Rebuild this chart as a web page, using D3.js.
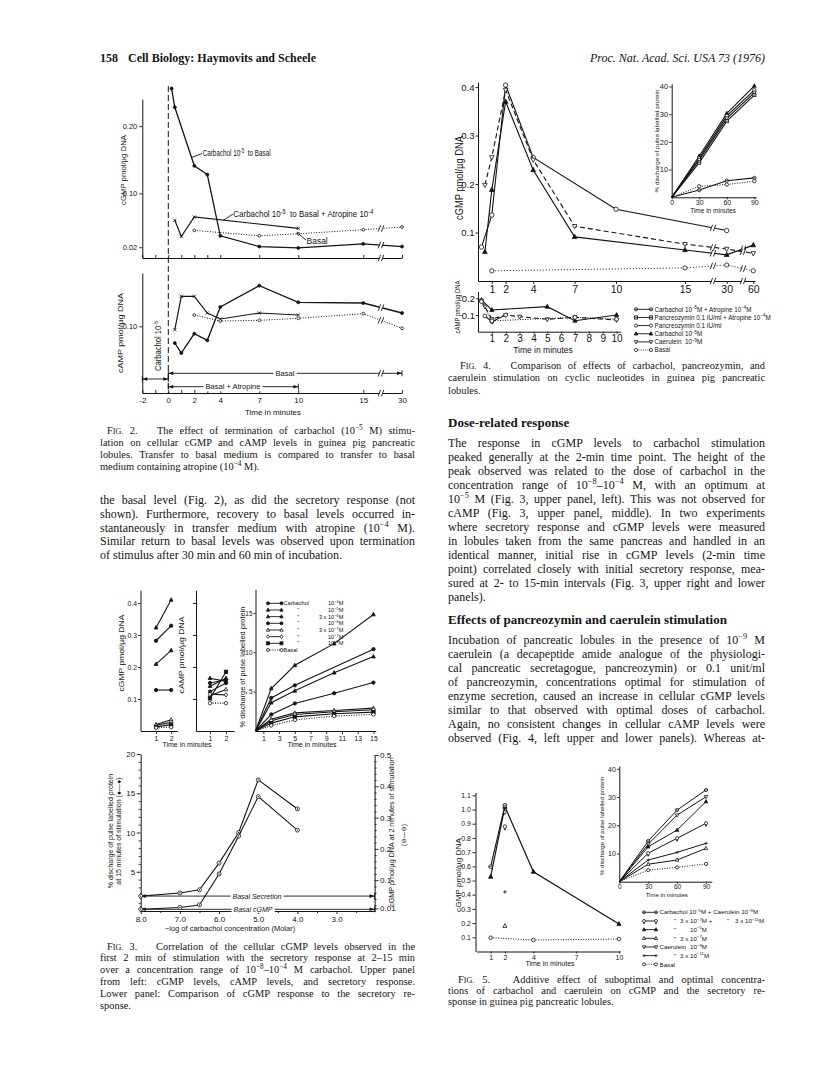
<!DOCTYPE html>
<html><head><meta charset="utf-8"><title>Haymovits and Scheele 1976, p.158</title>
<script src="https://cdn.jsdelivr.net/npm/d3@7/dist/d3.min.js"></script>
<style>html,body{margin:0;padding:0;background:#fff}svg{display:block}</style>
</head><body>
<svg id="page" width="816" height="1074" xmlns="http://www.w3.org/2000/svg"></svg>
<script>
// ================= DATA =================
// ---- Fig. 2 ----
const f2Ticks = [-2, 0, 2, 4, 7, 10, 15, 30];
const f2TickLabels = ['-2', '0', '2', '4', '7', '10', '15', '30'];
const f2MinorTicks = [-1, 1, 3];
const f2GmpTicks = [0.02, 0.10, 0.20];
const f2GmpTickLabels = ['0.02', '0.10', '0.20'];
const f2AmpTicks = [0.10];
const f2AmpTickLabels = ['0.10'];
const f2CarbT = [0.25, 0.5, 2, 3, 4, 7, 10, 15, 30];
const f2CarbGmp = [0.256, 0.228, 0.141, 0.128, 0.037, 0.021, 0.019, 0.025, 0.021];
const f2AtrT = [0.5, 1, 2, 10];
const f2AtrGmp = [0.060, 0.036, 0.065, 0.048];
const f2BasT = [2, 7, 10, 15, 30];
const f2BasGmp = [0.045, 0.037, 0.040, 0.046, 0.050];
const f2CarbAmpT = [0.5, 1, 2, 3, 4, 7, 10, 15, 30];
const f2CarbAmp = [0.075, 0.060, 0.089, 0.079, 0.129, 0.161, 0.136, 0.135, 0.120];
const f2AtrAmpT = [0.5, 1, 2, 3, 4, 7, 10];
const f2AtrAmp = [0.095, 0.145, 0.145, 0.120, 0.111, 0.120, 0.117];
const f2BasAmpT = [2, 4, 7, 10, 15, 30];
const f2BasAmp = [0.117, 0.108, 0.109, 0.112, 0.119, 0.097];

// ---- Fig. 3 upper ----
const f3UpperTime = [1, 2];
const f3SeriesLabels = ['10^{−4}M', '10^{−5}M', '3 x 10^{−6}M', '10^{−6}M', '3 x 10^{−7}M', '10^{−7}M', '10^{−8}M', 'Basal'];
const f3Markers = ['dot', 'tri', 'tri', 'dot', 'otri', 'dia', 'sq', 'circ'];
const f3GmpT1 = [0.282, 0.323, 0.209, 0.128, 0.020, 0.018, 0.013, 0.010];
const f3GmpT2 = [0.329, 0.410, 0.252, 0.128, 0.035, 0.027, 0.020, 0.012];
const f3AmpT1 = [0.150, 0.165, 0.140, 0.123, 0.110, 0.115, 0.102, 0.087];
const f3AmpT2 = [0.160, 0.155, 0.165, 0.150, 0.130, 0.113, 0.185, 0.087];
const f3GmpTicks = [0.1, 0.2, 0.3, 0.4];
const f3GmpTickLabels = ['0.1', '0.2', '0.3', '0.4'];
const f3SecTime = [0, 2, 5, 10, 15];
const f3SecC4  = [0, 4.2, 5.8, null, 10.4];
const f3SecC5  = [0, 5.4, 8.35, 11.1, 14.8];
const f3SecC36 = [0, 3.6, 5.1, 7.4, 9.45];
const f3SecC6  = [0, 2.1, 3.5, 4.8, 6.15];
const f3SecC37 = [0, 1.5, 2.3, 2.6, 2.9];
const f3SecC7  = [0, 1.3, 2.1, 2.45, 2.7];
const f3SecC8  = [0, 1.0, 1.8, 2.2, 2.4];
const f3SecBas = [0, 0.7, 1.4, 1.9, 2.1];
const f3SecTicks = [5, 10, 15];
const f3SecTimeTicks = [1, 3, 5, 7, 9, 11, 13, 15];
// ---- Fig. 3 lower ----
const f3LogConc = [8.0, 7.0, 6.5, 6.0, 5.5, 5.0, 4.0];
const f3Sec15 = [1.9, 2.3, 2.7, 6.1, 10.0, 16.7, 13.0];
const f3Gmp2 = [0.007, 0.013, 0.021, 0.12, 0.241, 0.367, 0.26];
const f3ConcTicks = [8, 7, 6, 5, 4, 3];
const f3ConcTickLabels = ['8.0', '7.0', '6.0', '5.0', '4.0', '3.0'];
const f3ConcMinor = [7.5, 6.5, 5.5, 4.5, 3.5, 2.5];
const f3LeftTicks = [5, 10, 15, 20];
const f3RightTicks = [0.01, 0.1, 0.2, 0.3, 0.4, 0.5];
const f3RightTickLabels = ['0.01', '0.1', '0.2', '0.3', '0.4', '0.5'];
const f3BasalSecLevel = 1.9;
const f3BasalGmpLevel = 0.007;

// ---- Fig. 4 ----
const f4Ticks = [1, 2, 4, 7, 10, 15, 30, 60];
const f4GmpTicks = [0.1, 0.2, 0.3, 0.4];
const f4PancT = [0.25, 1, 2, 4, 10, 30];
const f4PancGmp = [0.070, 0.136, 0.404, 0.255, 0.148, 0.104];
const f4CarbT = [0.5, 1, 2, 4, 7, 15, 30, 60];
const f4CarbGmp = [0.060, 0.188, 0.370, 0.229, 0.091, 0.064, 0.054, 0.074];
const f4CaerT = [0.5, 1, 2, 4, 7, 15, 30, 60];
const f4CaerGmp = [0.198, 0.255, 0.394, 0.250, 0.113, 0.076, 0.066, 0.057];
const f4BasT = [1, 15, 30, 60];
const f4BasGmp = [0.021, 0.027, 0.033, 0.021];
const f4InsTime = [0, 30, 60, 90];
const f4InsCarb = [0, 14.9, 30.3, 40.2];
const f4InsPanc = [0, 14.1, 29.4, 38.7];
const f4InsCaer = [0, 13.5, 28.5, 37.8];
const f4InsPancAtr = [0, 12.5, 27.5, 36.9];
const f4InsCarbAtr = [0, 2.6, 6.0, 7.0];
const f4InsBas = [0, 4.0, 4.6, 5.8];
const f4InsTicks = [10, 20, 30, 40];
const f4InsTimeTicks = [0, 30, 60, 90];
const f4AmpTicks = [0.1, 0.2];
const f4AmpTime = [1, 2, 3, 4, 5, 6, 7, 8, 9, 10];
const f4AmpCarbT = [0.25, 1, 5, 7, 10];
const f4AmpCarb = [0.19, 0.13, 0.15, 0.066, 0.10];
const f4AmpCaerT = [0.25, 0.5, 1, 2, 3, 5, 7, 10];
const f4AmpCaer = [0.185, 0.15, 0.075, 0.10, 0.09, 0.074, 0.086, 0.07];
const f4AmpPancT = [0.5, 1, 2];
const f4AmpPanc = [0.094, 0.06, 0.10];
const f4AmpBasT = [0.25, 1, 7, 10];
const f4AmpBas = [0.18, 0.065, 0.086, 0.075];
const f4Legend = ['Carbachol 10^{−5}M + Atropine 10^{−4}M', 'Pancreozymin 0.1 IU/ml + Atropine 10^{−4}M', 'Pancreozymin 0.1 IU/ml', 'Carbachol 10^{−5}M', 'Caerulein  10^{−9}M', 'Basal'];
const f4LegendMarkers = ['theta', 'osqline', 'circ', 'tri', 'itri', 'circ'];

// ---- Fig. 5 ----
const f5Ticks = [1, 2, 4, 7, 10];
const f5GmpTicks = [0.1, 0.2, 0.3, 0.4, 0.5, 0.6, 0.7, 0.8, 0.9, 1.0, 1.1];
const f5CarbT = [1, 2, 4, 10];
const f5CarbGmp = [0.527, 1.02, 0.562, 0.194];
const f5ComboT = [1, 2];
const f5ComboGmp = [0.597, 1.03];
const f5SinglesT2 = [0.98, 0.88, 0.42, 0.18];
const f5SinglesMarkers = ['itri', 'venus', 'plus', 'otri'];
const f5BasT = [1, 4, 10];
const f5BasGmp = [0.097, 0.081, 0.088];
const f5InsTime = [0, 30, 60, 90];
const f5InsCombo = [0, 14.4, 25.4, 32.5];
const f5InsCaer = [0, 13.3, 23.6, 30.1];
const f5InsCarb = [0, 12.4, 18.3, 28.4];
const f5InsCombo2 = [0, 10.1, 15.4, 20.7];
const f5InsCaer2 = [0, 7.7, 10.4, 13.6];
const f5InsCarb2 = [0, 6.2, 7.7, 11.8];
const f5InsBas = [0, 4.1, 5.1, 6.3];
const f5InsTicks = [10, 20, 30, 40];
const f5InsTimeTicks = [0, 30, 60, 90];

// ---- Text ----
const leftBody = [
  'the basal level (Fig. 2), as did the secretory response (not',
  'shown). Furthermore, recovery to basal levels occurred in-',
  'stantaneously in transfer medium with atropine (10^{−4} M).',
  'Similar return to basal levels was observed upon termination',
  'of stimulus after 30 min and 60 min of incubation.'];
const cap2 = [
  'F~{IG.} 2.   The effect of termination of carbachol (10^{−5} M) stimu-',
  'lation on cellular cGMP and cAMP levels in guinea pig pancreatic',
  'lobules. Transfer to basal medium is compared to transfer to basal',
  'medium containing atropine (10^{−4} M).'];
const cap3 = [
  'F~{IG.} 3.   Correlation of the cellular cGMP levels observed in the',
  'first 2 min of stimulation with the secretory response at 2–15 min',
  'over a concentration range of 10^{−8}–10^{−4} M carbachol. Upper panel',
  'from left: cGMP levels, cAMP levels, and secretory response.',
  'Lower panel: Comparison of cGMP response to the secretory re-',
  'sponse.'];
const cap4 = [
  'F~{IG.} 4.   Comparison of effects of carbachol, pancreozymin, and',
  'caerulein stimulation on cyclic nucleotides in guinea pig pancreatic',
  'lobules.'];
const cap5 = [
  'F~{IG.} 5.   Additive effect of suboptimal and optimal concentra-',
  'tions of carbachol and caerulein on cGMP and the secretory re-',
  'sponse in guinea pig pancreatic lobules.'];
const heading1 = 'Dose-related response';
const para1 = [
  'The response in cGMP levels to carbachol stimulation',
  'peaked generally at the 2-min time point. The height of the',
  'peak observed was related to the dose of carbachol in the',
  'concentration range of 10^{−8}–10^{−4} M, with an optimum at',
  '10^{−5} M (Fig. 3, upper panel, left). This was not observed for',
  'cAMP (Fig. 3, upper panel, middle). In two experiments',
  'where secretory response and cGMP levels were measured',
  'in lobules taken from the same pancreas and handled in an',
  'identical manner, initial rise in cGMP levels (2-min time',
  'point) correlated closely with initial secretory response, mea-',
  'sured at 2- to 15-min intervals (Fig. 3, upper right and lower',
  'panels).'];
const heading2 = 'Effects of pancreozymin and caerulein stimulation';
const para2 = [
  'Incubation of pancreatic lobules in the presence of 10^{−9} M',
  'caerulein (a decapeptide amide analogue of the physiologi-',
  'cal pancreatic secretagogue, pancreozymin) or 0.1 unit/ml',
  'of pancreozymin, concentrations optimal for stimulation of',
  'enzyme secretion, caused an increase in cellular cGMP levels',
  'similar to that observed with optimal doses of carbachol.',
  'Again, no consistent changes in cellular cAMP levels were',
  'observed (Fig. 4, left upper and lower panels). Whereas at-'];

// ================= HELPERS =================
const INK = '#141414';
const SERIF = "'Liberation Serif','DejaVu Serif','Times New Roman',serif";
const SANS = "'Liberation Sans','DejaVu Sans',Arial,sans-serif";
const svg = d3.select('#page');
svg.append('rect').attr('width', 816).attr('height', 1074).attr('fill', '#fff');

function rich(t, str, fs) {
  const parts = str.split(/(\^\{[^}]*\}|~\{[^}]*\})/);
  let shift = 0;
  parts.forEach(p => {
    if (!p) return;
    if (p.startsWith('^{')) {
      const up = -fs * 0.38;
      t.append('tspan').attr('font-size', fs * 0.7).attr('dy', up - shift).text(p.slice(2, -1));
      shift = up;
    } else if (p.startsWith('~{')) {
      const s = t.append('tspan').attr('font-size', fs * 0.78).text(p.slice(2, -1));
      if (shift) s.attr('dy', -shift); shift = 0;
    } else {
      const s = t.append('tspan').text(p);
      if (shift) s.attr('dy', -shift); shift = 0;
    }
  });
}
function txt(g, x, y, str, o) {
  o = o || {};
  const fs = o.fs || 10;
  const t = g.append('text').attr('x', x).attr('y', y)
    .attr('font-family', o.ff || SANS).attr('font-size', fs).attr('fill', INK)
    .style('white-space', 'pre');
  if (o.anchor) t.attr('text-anchor', o.anchor);
  if (o.fw) t.attr('font-weight', o.fw);
  if (o.fi) t.attr('font-style', 'italic');
  if (o.rot) t.attr('transform', `rotate(${o.rot},${x},${y})`);
  rich(t, str, fs);
  if (o.len) fitWidth(t, o.len);
  return t;
}
// scale the glyphs horizontally so that the text occupies exactly `len` pixels
function fitWidth(t, len) {
  const w = t.node().getComputedTextLength();
  if (!w) return;
  const k = len / w;
  const x = +t.attr('x'), y = +t.attr('y');
  const prev = t.attr('transform') || '';
  t.attr('transform', `${prev} translate(${x},${y}) scale(${k},1) translate(${-x},${-y})`);
}
function justify(t, width) {
  const n = t.node();
  const w = n.getComputedTextLength();
  const spaces = (n.textContent.match(/ /g) || []).length;
  if (w > width || spaces === 0) fitWidth(t, width);
  else t.style('word-spacing', ((width - w) / spaces) + 'px');
}
function para(g, lines, x, y0, step, width, o, indent, justifyLast) {
  lines.forEach((ln, i) => {
    const ind = (i === 0 && indent) ? indent : 0;
    const t = txt(g, x + ind, y0 + i * step, ln, o);
    if (i < lines.length - 1 || justifyLast) justify(t, width - ind);
  });
}
function axis(g, orient, scale, x, y, vals, labels, o) {
  o = o || {};
  const gen = { left: d3.axisLeft, right: d3.axisRight, bottom: d3.axisBottom, top: d3.axisTop }[orient](scale)
    .tickValues(vals).tickSizeOuter(0)
    .tickSizeInner(o.ts == null ? 3 : o.ts).tickPadding(o.pad == null ? 2 : o.pad)
    .tickFormat((d, i) => labels ? labels[i] : '');
  const a = g.append('g').attr('transform', `translate(${x},${y})`).call(gen);
  a.attr('font-family', SANS).attr('font-size', o.fs || 8);
  a.selectAll('path.domain').attr('stroke', o.noDomain ? 'none' : INK).attr('stroke-width', o.sw || 1);
  a.selectAll('.tick line').attr('stroke', INK).attr('stroke-width', o.tw || 0.9);
  a.selectAll('.tick text').attr('fill', INK);
  return a;
}
function mark(g, t, x, y, r) {
  const s = g.append('g').attr('transform', `translate(${x},${y})`);
  const st = (e, fill) => e.attr('stroke', INK).attr('stroke-width', 0.8).attr('fill', fill ? INK : '#fff');
  const ln = (x1, y1, x2, y2) => s.append('line').attr('x1', x1).attr('y1', y1).attr('x2', x2).attr('y2', y2).attr('stroke', INK).attr('stroke-width', 0.8);
  switch (t) {
    case 'dot': st(s.append('circle').attr('r', r), true); break;
    case 'circ': st(s.append('circle').attr('r', r), false); break;
    case 'ocdot': st(s.append('circle').attr('r', r), false); s.append('circle').attr('r', r * 0.35).attr('fill', INK); break;
    case 'tri': st(s.append('path').attr('d', `M0,${-r * 1.25}L${r * 1.1},${r * 0.8}L${-r * 1.1},${r * 0.8}Z`), true); break;
    case 'otri': st(s.append('path').attr('d', `M0,${-r * 1.25}L${r * 1.1},${r * 0.8}L${-r * 1.1},${r * 0.8}Z`), false); break;
    case 'itri': st(s.append('path').attr('d', `M0,${r * 1.25}L${r * 1.1},${-r * 0.8}L${-r * 1.1},${-r * 0.8}Z`), false); break;
    case 'dia': st(s.append('path').attr('d', `M0,${-r * 1.3}L${r},0L0,${r * 1.3}L${-r},0Z`), false); break;
    case 'sq': st(s.append('rect').attr('x', -r).attr('y', -r).attr('width', 2 * r).attr('height', 2 * r), true); break;
    case 'osq': st(s.append('rect').attr('x', -r).attr('y', -r).attr('width', 2 * r).attr('height', 2 * r), false); break;
    case 'osqline': st(s.append('rect').attr('x', -r).attr('y', -r).attr('width', 2 * r).attr('height', 2 * r), false); ln(-r, 0, r, 0); break;
    case 'theta': st(s.append('circle').attr('r', r), false); ln(-r, 0, r, 0); break;
    case 'venus': st(s.append('circle').attr('r', r), false); ln(0, r, 0, r * 2); ln(-r * 0.6, r * 1.5, r * 0.6, r * 1.5); break;
    case 'cross': ln(-r, -r, r, r); ln(-r, r, r, -r); break;
    case 'plus': ln(-r, 0, r, 0); ln(0, -r, 0, r); break;
  }
}
function series(g, xs, ys, sx, sy, o) {
  o = o || {};
  const pts = [];
  xs.forEach((x, i) => { if (ys[i] != null) pts.push([sx(x), sy(ys[i])]); });
  if (o.line !== false && pts.length > 1)
    g.append('path').attr('d', d3.line()(pts)).attr('fill', 'none').attr('stroke', INK)
      .attr('stroke-width', o.sw || 1.1).attr('stroke-dasharray', o.dash || null);
  if (o.mk) pts.forEach((p, i) => { if (!(o.skipFirst && i === 0)) mark(g, o.mk, p[0], p[1], o.ms || 2); });
  return pts;
}
function yAt(pts, x) {
  for (let i = 0; i < pts.length - 1; i++) {
    const [x0, y0] = pts[i], [x1, y1] = pts[i + 1];
    if ((x >= x0 && x <= x1) || (x <= x0 && x >= x1)) return y0 + (y1 - y0) * (x - x0) / (x1 - x0);
  }
  return null;
}
function brk(g, x, y, h) {
  h = h || 3.2; const gap = 1.6;
  g.append('rect').attr('x', x - gap).attr('y', y - h + 1).attr('width', gap * 2).attr('height', 2 * h - 2).attr('fill', '#fff');
  [-gap, gap].forEach(dx => g.append('line').attr('x1', x + dx - 1.2).attr('y1', y + h).attr('x2', x + dx + 1.2).attr('y2', y - h)
    .attr('stroke', INK).attr('stroke-width', 0.9));
}
function arrowHead(g, x, y, dir) {
  g.append('path').attr('d', `M${x},${y}L${x - dir * 5},${y - 1.8}L${x - dir * 5},${y + 1.8}Z`).attr('fill', INK);
}
function hArrow(g, x1, x2, y, label, o) {
  o = o || {};
  g.append('line').attr('x1', x1).attr('x2', x2).attr('y1', y).attr('y2', y).attr('stroke', INK).attr('stroke-width', 0.9);
  arrowHead(g, x1, y, -1); arrowHead(g, x2, y, 1);
  [x1, x2].forEach(x => g.append('line').attr('x1', x).attr('x2', x).attr('y1', y - 3).attr('y2', y + 3).attr('stroke', INK).attr('stroke-width', 0.9));
  if (label) {
    const cx = o.cx == null ? (x1 + x2) / 2 : o.cx;
    const bg = g.append('rect').attr('fill', '#fff');
    const t = txt(g, cx, y + (o.fs || 7) * 0.35, label, { fs: o.fs || 7, anchor: 'middle', fi: o.fi });
    const b = t.node().getBBox();
    bg.attr('x', b.x - 2).attr('y', b.y).attr('width', b.width + 4).attr('height', b.height);
  }
}
function leader(g, x1, y1, x2, y2) {
  g.append('line').attr('x1', x1).attr('y1', y1).attr('x2', x2).attr('y2', y2).attr('stroke', INK).attr('stroke-width', 0.9);
}

// ================= HEADER =================
const hdr = svg.append('g');
txt(hdr, 100, 62, '158', { ff: SERIF, fs: 12, fw: 'bold' });
txt(hdr, 128, 62, 'Cell Biology: Haymovits and Scheele', { ff: SERIF, fs: 12, fw: 'bold' });
txt(hdr, 765, 62, 'Proc. Nat. Acad. Sci. USA 73 (1976)', { ff: SERIF, fs: 12, fi: true, anchor: 'end' });

// ================= FIG 2 =================
const g2 = svg.append('g');
const f2x = d3.scaleLinear().domain([-2, 15, 30]).range([142.3, 363.3, 402]);
const f2gy = d3.scaleLinear().domain([0.004, 0.24]).range([258, 99.2]);
const f2ay = d3.scaleLinear().domain([0, 0.18]).range([393, 273]);
const f2Break = 381;
axis(g2, 'left', f2gy, 142.3, 0, f2GmpTicks, f2GmpTickLabels, { fs: 7.5, ts: 3, pad: 2 });
axis(g2, 'bottom', f2x, 0, 258, f2Ticks.concat(f2MinorTicks), null, { ts: -3 });
axis(g2, 'left', f2ay, 142.3, 0, f2AmpTicks, f2AmpTickLabels, { fs: 7.5, ts: 3, pad: 2 });
axis(g2, 'bottom', f2x, 0, 393, f2Ticks, f2TickLabels, { ts: -3, pad: 4, fs: 8 });
axis(g2, 'bottom', f2x, 0, 393, f2MinorTicks, null, { ts: -3, noDomain: true });
brk(g2, f2Break, 258); brk(g2, f2Break, 393);
g2.append('line').attr('x1', f2x(0)).attr('x2', f2x(0)).attr('y1', 86).attr('y2', 393)
  .attr('stroke', INK).attr('stroke-width', 1).attr('stroke-dasharray', '6,3');
const p2a = series(g2, f2CarbT, f2CarbGmp, f2x, f2gy, { mk: 'dot', ms: 1.5, sw: 1.3 });
series(g2, f2AtrT, f2AtrGmp, f2x, f2gy, { mk: 'cross', ms: 1.6, sw: 1.2 });
const p2c = series(g2, f2BasT, f2BasGmp, f2x, f2gy, { mk: 'circ', ms: 1.4, dash: '1,1.6', sw: 1 });
brk(g2, f2Break, yAt(p2a, f2Break)); brk(g2, f2Break, yAt(p2c, f2Break));
txt(g2, 202.7, 156.5, 'Carbachol 10^{-5}  to Basal', { fs: 9, len: 68 });
leader(g2, 191.7, 157.5, 202, 153.5);
txt(g2, 233.3, 217, 'Carbachol 10^{-5}  to Basal + Atropine 10^{-4}', { fs: 9, len: 140 });
leader(g2, 223, 220.5, 233, 214);
txt(g2, 306.5, 244, 'Basal', { fs: 8.5 });
leader(g2, 296.7, 232.3, 306, 240);
const p2d = series(g2, f2CarbAmpT, f2CarbAmp, f2x, f2ay, { mk: 'dot', ms: 1.5, sw: 1.3 });
series(g2, f2AtrAmpT, f2AtrAmp, f2x, f2ay, { mk: 'cross', ms: 1.6, sw: 1.2 });
const p2f = series(g2, f2BasAmpT, f2BasAmp, f2x, f2ay, { mk: 'circ', ms: 1.4, dash: '1,1.6', sw: 1 });
brk(g2, f2Break, yAt(p2d, f2Break)); brk(g2, f2Break, yAt(p2f, f2Break));
txt(g2, 161.5, 346, 'Carbachol 10^{-5}', { fs: 8.5, anchor: 'middle', rot: -90, len: 50 });
hArrow(g2, f2x(0), f2x(30), 373.3, 'Basal', { fs: 7.5, cx: 285 });
brk(g2, f2Break, 373.3);
hArrow(g2, f2x(-2), f2x(0), 379, null);
hArrow(g2, f2x(0), f2x(10), 386.7, 'Basal + Atropine', { fs: 7.5, cx: 233 });
txt(g2, 126, 170, 'cGMP pmol/µg DNA', { fs: 7.5, anchor: 'middle', rot: -90, len: 70 });
txt(g2, 123, 333, 'cAMP pmol/µg DNA', { fs: 7.5, anchor: 'middle', rot: -90, len: 80 });
txt(g2, 273, 415, 'Time in minutes', { fs: 8, anchor: 'middle' });

const LX = 100, LW = 315;
para(svg, cap2, LX, 433.5, 12.2, LW, { ff: SERIF, fs: 10.4 }, 7);
para(svg, leftBody, LX, 504, 13.8, LW, { ff: SERIF, fs: 12 });

// ================= FIG 3 upper =================
const g3 = svg.append('g');
const f3gy = d3.scaleLinear().domain([0, 0.44]).range([731, 590.2]);
const f3lx = d3.scaleLinear().domain([-0.03, 2.4]).range([140.5, 177.2]);
const f3mx = d3.scaleLinear().domain([0.125, 2.5]).range([196, 234]);
const f3sy = d3.scaleLinear().domain([0, 18]).range([731, 589.3]);
const f3sx = d3.scaleLinear().domain([0, 15.3]).range([255.5, 375.8]);
axis(g3, 'left', f3gy, 140.5, 0, f3GmpTicks, f3GmpTickLabels, { fs: 6.8, ts: 2.5, pad: 1 });
axis(g3, 'bottom', f3lx, 0, 731, f3UpperTime, ['1', '2'], { fs: 7, ts: 3, pad: 2 });
axis(g3, 'left', f3gy, 196, 0, f3GmpTicks, null, { ts: 3 });
axis(g3, 'bottom', f3mx, 0, 731, f3UpperTime, ['1', '2'], { fs: 7, ts: 3, pad: 2 });
axis(g3, 'left', f3sy, 255.5, 0, f3SecTicks, ['5', '10', '15'], { fs: 6.5, ts: 2, pad: 1 });
axis(g3, 'bottom', f3sx, 0, 731, f3SecTimeTicks, f3SecTimeTicks.map(String), { fs: 7, ts: 3, pad: 2 });
f3SeriesLabels.forEach((lab, i) => {
  const bas = lab === 'Basal';
  series(g3, f3UpperTime, [f3GmpT1[i], f3GmpT2[i]], f3lx, f3gy, { mk: f3Markers[i], ms: 1.7, dash: bas ? '1,1.5' : null, sw: 1.1 });
  series(g3, f3UpperTime, [f3AmpT1[i], f3AmpT2[i]], f3mx, f3gy, { mk: f3Markers[i], ms: 1.7, dash: bas ? '1,1.5' : null, sw: 1.1 });
});
const f3SecSeries = [f3SecC4, f3SecC5, f3SecC36, f3SecC6, f3SecC37, f3SecC7, f3SecC8, f3SecBas];
f3SecSeries.forEach((ser, i) => {
  series(g3, f3SecTime, ser, f3sx, f3sy, { mk: f3Markers[i], ms: 1.7, dash: i === 7 ? '1,1.5' : null, sw: 1.1, skipFirst: true });
});
f3SeriesLabels.forEach((lab, i) => {
  const y = 603.3 + i * 6.67;
  g3.append('line').attr('x1', 268).attr('x2', 281.5).attr('y1', y).attr('y2', y).attr('stroke', INK)
    .attr('stroke-width', 0.9).attr('stroke-dasharray', i === 7 ? '1,1.2' : null);
  mark(g3, f3Markers[i], 268, y, 1.5); mark(g3, f3Markers[i], 281.5, y, 1.5);
  if (i === 0) txt(g3, 283.5, y + 2, 'Carbachol', { fs: 5.6 });
  else if (i < 7) txt(g3, 297.3, y + 2, '"', { fs: 5.6 });
  if (i < 7) txt(g3, 343.3, y + 2, lab, { fs: 5.6, anchor: 'end' });
  else txt(g3, 283.5, y + 2, 'Basal', { fs: 5.6 });
});
txt(g3, 124, 653, 'cGMP pmol/µg DNA', { fs: 6.5, anchor: 'middle', rot: -90, len: 77 });
txt(g3, 184.5, 655, 'cAMP pmol/µg DNA', { fs: 6.5, anchor: 'middle', rot: -90, len: 77 });
txt(g3, 245, 667, '% discharge of pulse labelled protein', { fs: 6.5, anchor: 'middle', rot: -90, len: 121 });
txt(g3, 187, 747, 'Time in minutes', { fs: 7, anchor: 'middle' });
txt(g3, 312, 747, 'Time in minutes', { fs: 7, anchor: 'middle' });

// ================= FIG 3 lower =================
const g3b = svg.append('g');
const f3ly = d3.scaleLinear().domain([0, 20]).range([911, 754]);
const f3ry = d3.scaleLinear().domain([0, 0.5]).range([911.5, 755]);
const f3cx = d3.scaleLinear().domain([8, 2.03]).range([140.7, 374.6]);
axis(g3b, 'left', f3ly, 140.7, 0, f3LeftTicks, f3LeftTicks.map(String), { fs: 8, ts: 4, pad: 1.5 });
axis(g3b, 'left', f3ly, 140.7, 0, d3.range(1, 20).filter(v => v % 5), null, { ts: 2, noDomain: true });
axis(g3b, 'right', f3ry, 374.6, 0, f3RightTicks, f3RightTickLabels, { fs: 8, ts: 4, pad: 1.5 });
axis(g3b, 'right', f3ry, 374.6, 0, d3.range(0.02, 0.5, 0.02).filter(v => Math.abs(v * 10 - Math.round(v * 10)) > 0.01), null, { ts: 2, noDomain: true });
axis(g3b, 'bottom', f3cx, 0, 911, f3ConcTicks, f3ConcTickLabels, { fs: 8, ts: 3, pad: 2 });
axis(g3b, 'bottom', f3cx, 0, 911, f3ConcMinor, null, { ts: 2, noDomain: true });
hArrow(g3b, 140.7, 374.6, f3ly(f3BasalSecLevel), 'Basal Secretion', { fs: 7, fi: true, cx: 257 });
hArrow(g3b, 140.7, 374.6, f3ry(f3BasalGmpLevel), 'Basal cGMP', { fs: 7, fi: true, cx: 253 });
series(g3b, f3LogConc, f3Sec15, f3cx, f3ly, { mk: 'ocdot', ms: 2, sw: 1.1 });
series(g3b, f3LogConc, f3Gmp2, f3cx, f3ry, { mk: 'ocdot', ms: 2, sw: 1.1 });
txt(g3b, 113, 831, '% discharge of pulse labelled protein', { fs: 7, anchor: 'middle', rot: -90 });
txt(g3b, 121, 831, 'at 15 minutes of stimulation (●—●)', { fs: 7, anchor: 'middle', rot: -90 });
txt(g3b, 394, 832, 'cGMP pmol/µg DNA at 2 minutes of stimulation', { fs: 7, anchor: 'middle', rot: -90, len: 150 });
txt(g3b, 406, 835, '(⊖—⊖)', { fs: 6.5, anchor: 'middle', rot: -90 });
txt(g3b, 230, 931, '−log of carbachol concentration (Molar)', { fs: 7.5, anchor: 'middle' });
para(svg, cap3, LX, 949.5, 11.8, LW, { ff: SERIF, fs: 10.4 }, 7);

// ================= FIG 4 =================
const g4 = svg.append('g');
const f4x = d3.scaleLinear().domain([0, 15, 30, 60, 62]).range([478, 685, 726.7, 753.3, 755]);
const f4gy = d3.scaleLinear().domain([0, 0.41]).range([281, 82.2]);
axis(g4, 'left', f4gy, 478, 0, f4GmpTicks, f4GmpTicks.map(String), { fs: 9.5, ts: 2.5, pad: 1 });
axis(g4, 'bottom', f4x, 0, 281, f4Ticks, f4Ticks.map(String), { fs: 10.5, ts: 3, pad: 2 });
const brkA = 713, brkB = 743;
brk(g4, brkA, 281); brk(g4, brkB, 281);
const p4a = series(g4, f4PancT, f4PancGmp, f4x, f4gy, { mk: 'circ', ms: 2.2, sw: 1.1 });
const p4b = series(g4, f4CarbT, f4CarbGmp, f4x, f4gy, { mk: 'tri', ms: 2.1, sw: 1.1 });
const p4c = series(g4, f4CaerT, f4CaerGmp, f4x, f4gy, { mk: 'itri', ms: 2.1, sw: 1.1, dash: '5,3' });
const p4d = series(g4, f4BasT, f4BasGmp, f4x, f4gy, { mk: 'circ', ms: 2.1, sw: 1, dash: '1,2' });
[p4a, p4b, p4c, p4d].forEach(p => { const ya = yAt(p, brkA); if (ya != null) brk(g4, brkA, ya); });
[p4b, p4c, p4d].forEach(p => { const yb = yAt(p, brkB); if (yb != null) brk(g4, brkB, yb); });
txt(g4, 463, 178, 'cGMP pmol/µg DNA', { fs: 10, anchor: 'middle', rot: -90, len: 84 });
const f4ix = d3.scaleLinear().domain([0, 92]).range([671.7, 756.2]);
const f4iy = d3.scaleLinear().domain([0, 41]).range([197.3, 83.7]);
axis(g4, 'left', f4iy, 671.7, 0, f4InsTicks, f4InsTicks.map(String), { fs: 7.5, ts: 2.5, pad: 1 });
axis(g4, 'bottom', f4ix, 0, 197.3, f4InsTimeTicks, f4InsTimeTicks.map(String), { fs: 7, ts: 2, pad: 1 });
series(g4, f4InsTime, f4InsCarb, f4ix, f4iy, { mk: 'tri', ms: 1.7, skipFirst: true });
series(g4, f4InsTime, f4InsPanc, f4ix, f4iy, { mk: 'circ', ms: 1.7, skipFirst: true });
series(g4, f4InsTime, f4InsCaer, f4ix, f4iy, { mk: 'itri', ms: 1.7, skipFirst: true });
series(g4, f4InsTime, f4InsPancAtr, f4ix, f4iy, { mk: 'osqline', ms: 1.6, skipFirst: true });
series(g4, f4InsTime, f4InsCarbAtr, f4ix, f4iy, { mk: 'theta', ms: 1.7, skipFirst: true });
series(g4, f4InsTime, f4InsBas, f4ix, f4iy, { mk: 'circ', ms: 1.7, skipFirst: true, dash: '1,1.5', sw: 1 });
txt(g4, 659, 141, '% discharge of pulse labelled protein', { fs: 6, anchor: 'middle', rot: -90, len: 103 });
txt(g4, 713, 213, 'Time in minutes', { fs: 6.5, anchor: 'middle' });
const f4ax = d3.scaleLinear().domain([0, 10.3]).range([478, 620.7]);
const f4ay = d3.scaleLinear().domain([0, 0.24]).range([331.7, 291.6]);
axis(g4, 'left', f4ay, 478, 0, f4AmpTicks, f4AmpTicks.map(String), { fs: 9.5, ts: 2, pad: 1 });
axis(g4, 'bottom', f4ax, 0, 331.7, f4AmpTime, f4AmpTime.map(String), { fs: 10, ts: 2, pad: 1 });
series(g4, f4AmpCarbT, f4AmpCarb, f4ax, f4ay, { mk: 'tri', ms: 1.9 });
series(g4, f4AmpCaerT, f4AmpCaer, f4ax, f4ay, { mk: 'itri', ms: 1.9, dash: '5,3' });
series(g4, f4AmpPancT, f4AmpPanc, f4ax, f4ay, { mk: 'circ', ms: 1.9 });
series(g4, f4AmpBasT, f4AmpBas, f4ax, f4ay, { mk: 'circ', ms: 1.9, dash: '1,1.5', sw: 1 });
txt(g4, 460.5, 307, 'cAMP pmol/µg DNA', { fs: 8, anchor: 'middle', rot: -90, len: 53 });
txt(g4, 543, 352.5, 'Time in minutes', { fs: 8.5, anchor: 'middle' });
f4Legend.forEach((lab, i) => {
  const y = 309.3 + i * 8.15;
  g4.append('line').attr('x1', 636).attr('x2', 651).attr('y1', y).attr('y2', y).attr('stroke', INK)
    .attr('stroke-width', 0.9).attr('stroke-dasharray', i === 5 ? '1,1.3' : null);
  mark(g4, f4LegendMarkers[i], 636, y, 1.6); mark(g4, f4LegendMarkers[i], 651, y, 1.6);
  txt(g4, 654.5, y + 2.3, lab, { fs: 6.3 });
});
para(svg, cap4, 448, 368.5, 12.5, 317, { ff: SERIF, fs: 10.4 }, 12);

// ================= RIGHT COLUMN TEXT =================
const RX = 448, RW = 317;
txt(svg, RX, 426.5, heading1, { ff: SERIF, fs: 13, fw: 'bold' });
para(svg, para1, RX, 447, 14.0, RW, { ff: SERIF, fs: 12 });
txt(svg, RX, 623.5, heading2, { ff: SERIF, fs: 13, fw: 'bold' });
para(svg, para2, RX, 644, 14.05, RW, { ff: SERIF, fs: 12 }, 0, true);

// ================= FIG 5 =================
const g5 = svg.append('g');
const f5x = d3.scaleLinear().domain([0, 10.1]).range([476.4, 620.4]);
const f5y = d3.scaleLinear().domain([0, 1.12]).range([951.5, 792.5]);
axis(g5, 'left', f5y, 475.5, 0, f5GmpTicks, f5GmpTicks.map(v => v.toFixed(1)), { fs: 7, ts: 3, pad: 1.5 });
axis(g5, 'bottom', f5x, 0, 951.5, f5Ticks, f5Ticks.map(String), { fs: 7, ts: 2, pad: 1.5 });
series(g5, f5CarbT, f5CarbGmp, f5x, f5y, { mk: 'tri', ms: 1.9, sw: 1.2 });
series(g5, f5ComboT, f5ComboGmp, f5x, f5y, { mk: 'theta', ms: 1.9, sw: 1.1 });
f5SinglesT2.forEach((v, i) => series(g5, [2], [v], f5x, f5y, { mk: f5SinglesMarkers[i], ms: 1.8, line: false }));
series(g5, f5BasT, f5BasGmp, f5x, f5y, { mk: 'circ', ms: 1.8, dash: '1,1.5', sw: 1 });
txt(g5, 461.5, 875, 'cGMP pmol/µg DNA', { fs: 7, anchor: 'middle', rot: -90, len: 74 });
txt(g5, 550, 966, 'Time in minutes', { fs: 7, anchor: 'middle' });
const f5ix = d3.scaleLinear().domain([0, 96]).range([619.3, 711.8]);
const f5iy = d3.scaleLinear().domain([0, 41]).range([881.7, 766]);
axis(g5, 'left', f5iy, 619.3, 0, f5InsTicks, f5InsTicks.map(String), { fs: 7, ts: 2.5, pad: 1 });
axis(g5, 'bottom', f5ix, 0, 881.7, f5InsTimeTicks, f5InsTimeTicks.map(String), { fs: 6.5, ts: 2, pad: 1 });
const f5InsSeries = [f5InsCombo, f5InsCaer, f5InsCarb, f5InsCombo2, f5InsCaer2, f5InsCarb2, f5InsBas];
const f5InsMarkers = ['theta', 'itri', 'tri', 'venus', 'plus', 'otri', 'circ'];
f5InsSeries.forEach((s, i) => series(g5, f5InsTime, s, f5ix, f5iy, { mk: f5InsMarkers[i], ms: 1.6, skipFirst: true, dash: i === 6 ? '1,1.5' : null, sw: 1 }));
txt(g5, 604.5, 826, '% discharge of pulse labelled protein', { fs: 6, anchor: 'middle', rot: -90, len: 98 });
txt(g5, 666.7, 896.5, 'Time in minutes', { fs: 6, anchor: 'middle' });
const f5LegMarkers = ['theta', 'venus', 'tri', 'otri', 'itri', 'plus', 'circ'];
f5LegMarkers.forEach((m, i) => {
  const y = 912.3 + i * 8.67;
  g5.append('line').attr('x1', 644).attr('x2', 656).attr('y1', y).attr('y2', y).attr('stroke', INK)
    .attr('stroke-width', 0.9).attr('stroke-dasharray', i === 6 ? '1,1.3' : null);
  mark(g5, m, 644, y, 1.5); mark(g5, m, 656, y, 1.5);
});
const L5 = (i) => 912.3 + i * 8.67 + 2.2;
txt(g5, 659.5, L5(0), 'Carbachol 10^{−5}M + Caerulein 10^{−9}M', { fs: 6.2, len: 98.5 });
txt(g5, 674, L5(1), '"', { fs: 6.2 }); txt(g5, 680, L5(1), '3 x 10^{−7}M +', { fs: 6.2 });
txt(g5, 727, L5(1), '"', { fs: 6.2 }); txt(g5, 735, L5(1), '3 x 10^{−11}M', { fs: 6.2 });
txt(g5, 674, L5(2), '"', { fs: 6.2 }); txt(g5, 690, L5(2), '10^{−5}M', { fs: 6.2 });
txt(g5, 674, L5(3), '"', { fs: 6.2 }); txt(g5, 680, L5(3), '3 x 10^{−7}M', { fs: 6.2 });
txt(g5, 659.5, L5(4), 'Caerulein', { fs: 6.2 }); txt(g5, 690, L5(4), '10^{−9}M', { fs: 6.2 });
txt(g5, 674, L5(5), '"', { fs: 6.2 }); txt(g5, 680, L5(5), '3 x 10^{−11}M', { fs: 6.2 });
txt(g5, 659.5, L5(6), 'Basal', { fs: 6.2 });
para(svg, cap5, 448, 983, 11, 317, { ff: SERIF, fs: 10.4 }, 10);
</script>
</body></html>
